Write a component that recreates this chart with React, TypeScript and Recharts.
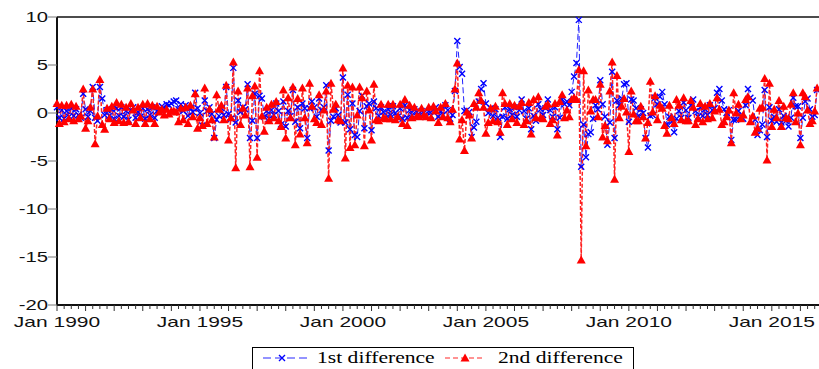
import { LineChart, Line, XAxis, YAxis, ReferenceLine } from "recharts";

// monthly observations, Jan 1990 onwards
const START_YEAR = 1990;

// 1st difference, one row per year
const firstDiff = [
  0.6, -0.5, 0.3, -0.6, 0.2, -0.4, 0.5, -0.3, 0.4, -0.2, -0.5, 2.0, // 1990
  0.4, -0.4, 0.2, 2.7, -0.5, -0.8, 2.7, 1.5, -0.2, 0.3, -0.3, 0.4, // 1991
  -0.6, 0.5, -0.3, 0.6, -0.4, 0.2, -0.7, 0.3, 0.6, -0.5, 0.1, -0.4, // 1992
  0.5, -0.6, 0.4, -0.2, 0.6, -0.5, 0.2, 0.3, 0.7, 0.5, 0.9, 0.8, // 1993
  1.0, 1.2, 1.3, 0.4, 0.9, 0.2, 0.8, -0.3, 0.5, 0.1, 2.1, 0.5, // 1994
  0.0, -1.3, 1.3, 0.2, 0.6, -0.1, -2.6, -0.7, -0.3, 0.5, -0.2, 2.7, // 1995
  -0.1, -0.6, 4.7, -1.0, 1.3, 0.1, 0.6, 0.4, 3.0, -2.6, -0.8, 2.0, // 1996
  -2.6, 1.8, 1.5, -0.4, 0.2, -0.6, 0.3, -0.2, 1.0, 0.2, -1.2, 1.2, // 1997
  -1.4, 0.2, -0.3, 2.4, -0.9, 0.6, -1.6, 1.0, 0.5, -2.6, 0.5, 1.2, // 1998
  0.6, -0.4, 1.5, 0.3, 0.6, 2.9, -3.9, -0.8, -0.4, 0.5, -0.2, -1.0, // 1999
  3.7, -1.0, 1.9, -1.7, 1.0, -2.3, -2.5, 0.2, 1.8, -1.6, 0.7, 1.0, // 2000
  -1.8, 1.2, 0.5, -0.3, 0.6, 0.1, -0.5, 0.4, -0.2, 0.7, 0.0, -0.4, // 2001
  0.5, -0.6, 0.8, -0.5, 0.3, -0.2, 0.4, 0.1, -0.3, 0.2, 0.0, -0.4, // 2002
  0.2, -0.3, 0.4, 0.6, -0.4, 0.2, -0.2, 0.8, 0.3, -0.6, -0.2, 2.3, // 2003
  7.5, 4.8, 4.1, 0.2, 0.3, 0.1, -2.5, -1.5, -0.9, 1.2, 2.5, 3.1, // 2004
  1.0, 0.0, 0.5, -0.3, 0.4, -0.5, -2.5, -0.4, 0.6, -0.6, 0.4, -0.2, // 2005
  0.6, -0.4, 0.3, 1.4, 0.2, -0.6, 0.5, -1.7, -0.3, -0.8, 0.9, 0.4, // 2006
  -0.2, 0.5, 1.4, 0.3, -0.4, 0.6, -1.7, -0.5, 1.4, 0.9, 1.2, 0.8, // 2007
  2.2, 3.8, 5.2, 9.7, -5.6, -1.2, -4.6, -2.2, -2.0, -0.6, 0.8, 0.4, // 2008
  3.4, 0.9, -0.4, -3.3, -1.0, 4.3, -2.6, 1.3, 0.8, 1.5, 3.0, 3.1, // 2009
  -0.9, 1.4, 1.3, 0.5, -0.3, 0.4, 0.0, -2.6, -3.6, -0.3, -0.2, 1.6, // 2010
  0.9, 1.7, 2.2, 0.9, -1.2, -0.4, -0.9, -2.0, -0.6, 0.2, -0.5, 1.1, // 2011
  0.3, -0.5, 0.8, 1.4, 0.2, -0.4, 0.6, -0.3, 0.4, -0.2, 0.8, 0.3, // 2012
  0.5, 2.1, 2.5, 1.3, 0.4, 0.0, 0.3, -2.8, -0.7, -0.7, 0.2, -0.4, // 2013
  -0.6, 0.8, 2.5, 1.6, 1.3, -0.7, -2.3, -1.8, -1.2, 2.4, -2.5, 0.6, // 2014
  -0.8, -0.4, -0.9, 0.4, -1.0, -0.3, -0.8, -1.4, -0.5, 1.6, 0.7, 0.7, // 2015
  -2.6, -0.5, 1.2, 1.5, 0.4, -0.4, -0.2, 2.4, // 2016
];

// 2nd difference
const secondDiff = [
  1.0, -1.1, 0.8, -0.9, 0.8, -0.6, 0.9, -0.8, 0.7, -0.6, -0.3, 2.5, // 1990
  -1.6, -0.8, 0.6, 2.5, -3.2, -0.3, 3.5, -1.2, -1.7, 0.5, -0.6, 0.7, // 1991
  -1.0, 1.1, -0.8, 0.9, -1.0, 0.6, -0.9, 1.0, 0.3, -1.1, 0.6, -0.5, // 1992
  0.9, -1.1, 1.0, -0.6, 0.8, -1.1, 0.7, 0.1, 0.4, -0.2, 0.4, -0.1, // 1993
  0.2, 0.2, 0.1, -0.9, 0.5, -0.7, 0.6, -1.1, 0.8, -0.4, 2.0, -1.6, // 1994
  -0.5, -1.3, 2.6, -1.1, 0.4, -0.7, -2.5, 1.9, 0.4, 0.8, -0.7, 2.9, // 1995
  -2.8, -0.5, 5.3, -5.7, 2.3, -1.2, 0.5, -0.2, 2.6, -5.6, 1.8, 2.8, // 1996
  -4.6, 4.4, -0.3, -1.9, 0.6, -0.8, 0.9, -0.5, 1.2, -0.8, -1.4, 2.4, // 1997
  -2.6, 1.6, -0.5, 2.7, -3.3, 1.5, -2.2, 2.6, -0.5, -3.1, 3.1, 0.7, // 1998
  -0.6, -1.0, 1.9, -1.2, 0.3, 2.3, -6.8, 3.1, 0.4, 0.9, -0.7, -0.8, // 1999
  4.7, -4.7, 2.9, -3.6, 2.7, -3.3, -0.2, 2.7, 1.6, -3.4, 2.3, 0.3, // 2000
  -2.8, 3.0, -0.7, -0.8, 0.9, -0.5, -0.6, 0.9, -0.6, 0.9, -0.7, -0.4, // 2001
  0.9, -1.1, 1.4, -1.3, 0.8, -0.5, 0.6, -0.3, -0.4, 0.5, -0.2, -0.4, // 2002
  0.6, -0.5, 0.7, 0.2, -1.0, 0.6, -0.4, 1.0, -0.5, -0.9, 0.4, 2.5, // 2003
  5.2, -2.7, -0.7, -3.9, 0.1, -0.2, -2.6, 1.0, 0.6, 2.1, 1.3, 0.6, // 2004
  -2.1, -1.0, 0.5, -0.8, 0.7, -0.9, -2.0, 2.1, 1.0, -1.2, 1.0, -0.6, // 2005
  0.8, -1.0, 0.7, 1.1, -1.2, -0.8, 1.1, -2.2, 1.4, -0.5, 1.7, -0.5, // 2006
  -0.6, 0.7, 0.9, -1.1, -0.7, 1.0, -2.3, 1.2, 1.9, -0.5, 0.3, -0.4, // 2007
  1.4, 1.6, 1.4, 4.5, -15.3, 4.4, -3.4, 2.4, 0.2, 1.4, 1.4, -0.4, // 2008
  3.0, -2.5, -1.3, -2.9, 2.3, 5.3, -6.9, 3.9, -0.5, 0.7, 1.5, 0.1, // 2009
  -4.0, 2.3, -0.1, -0.8, -0.8, 0.7, -0.4, -2.6, -1.0, 3.3, 0.1, 1.8, // 2010
  -0.7, 0.8, 0.5, -1.3, -2.1, 0.8, -0.5, -1.1, 1.4, 0.8, -0.7, 1.6, // 2011
  -0.8, -0.8, 1.3, 0.6, -1.2, -0.6, 1.0, -0.9, 0.7, -0.6, 1.0, -0.5, // 2012
  0.2, 1.6, 0.4, -1.2, -0.9, -0.4, 0.3, -3.1, 2.1, 0.0, 0.9, -0.6, // 2013
  -0.2, 1.4, 1.7, -0.9, -0.3, -2.0, -1.6, 0.5, 0.6, 3.6, -4.9, 3.1, // 2014
  -1.4, 0.4, -0.5, 1.3, -1.4, 0.7, -0.5, -0.6, 0.9, 2.1, -0.9, 0.0, // 2015
  -3.3, 2.1, 1.7, 0.3, -1.1, -0.8, 0.2, 2.6, // 2016
];

const labelYears = [1990, 1995, 2000, 2005, 2010, 2015];
const yTicks = [-20, -15, -10, -5, 0, 5, 10];

const data = firstDiff.map((v, i) => ({ m: i, first: v, second: secondDiff[i] }));

// a tick every quarter, labels every five years
const quarterTicks: number[] = [];
for (let m = 0; m < firstDiff.length; m += 3) quarterTicks.push(m);
const labelAt: Record<number, string> = {};
labelYears.forEach((y) => (labelAt[(y - START_YEAR) * 12] = "Jan " + y));

const FONT = "'Liberation Sans', Arial, sans-serif";

function XTick(props: any) {
  const { x, y, payload } = props;
  const m = payload.value;
  const len = m % 12 === 0 ? 6 : 4;
  return (
    <g>
      <line x1={x} x2={x} y1={y} y2={y + len} stroke="#333" strokeWidth={1} />
      {labelAt[m] && (
        <text
          transform={`translate(${x},${y + 22}) scale(1.5,1)`}
          textAnchor="middle"
          fontFamily={FONT}
          fontSize={14}
          fill="#111"
        >
          {labelAt[m]}
        </text>
      )}
    </g>
  );
}

function YTick(props: any) {
  const { x, y, payload } = props;
  return (
    <text
      transform={`translate(${x},${y}) scale(1.45,1)`}
      textAnchor="end"
      dy="0.36em"
      fontFamily={FONT}
      fontSize={14}
      fill="#111"
    >
      {payload.value}
    </text>
  );
}

const crossDot = (p: any) => {
  const { cx, cy, index } = p;
  if (cx == null || cy == null) return <g key={index} />;
  const s = 3;
  return (
    <path
      key={index}
      d={`M${cx - s},${cy - s}L${cx + s},${cy + s}M${cx - s},${cy + s}L${cx + s},${cy - s}`}
      stroke="#0000ff"
      strokeWidth={1.4}
      fill="none"
    />
  );
};

const triangleDot = (p: any) => {
  const { cx, cy, index } = p;
  if (cx == null || cy == null) return <g key={index} />;
  return (
    <path
      key={index}
      d={`M${cx},${cy - 4.5}L${cx + 4.5},${cy + 3.5}L${cx - 4.5},${cy + 3.5}Z`}
      fill="#ff0000"
      stroke="none"
    />
  );
};

function LegendBox() {
  return (
    <svg width={382} height={24} style={{ position: "absolute", left: 244, top: 339, overflow: "visible" }}>
      <rect x={0.5} y={0.5} width={381} height={30} fill="#fff" stroke="#000" strokeWidth={1} />
      <line x1={11} x2={55} y1={11} y2={11} stroke="#7070ff" strokeWidth={1.5} strokeDasharray="8 4" />
      <path d="M27,8L33,14M27,14L33,8" stroke="#0000ff" strokeWidth={1.4} />
      <text
        transform="translate(65,16) scale(1.35,1)"
        fontFamily="'Liberation Serif', 'Times New Roman', serif"
        fontSize={16}
        fill="#000"
      >
        1st difference
      </text>
      <line x1={193} x2={233} y1={11} y2={11} stroke="#ff7070" strokeWidth={1.5} strokeDasharray="5 3" />
      <path d="M213,6.5L217.5,14.5L208.5,14.5Z" fill="#ff0000" />
      <text
        transform="translate(246,16) scale(1.35,1)"
        fontFamily="'Liberation Serif', 'Times New Roman', serif"
        fontSize={16}
        fill="#000"
      >
        2nd difference
      </text>
    </svg>
  );
}

export default function App() {
  // fixed so the overflowing legend does not add scrollbars
  return (
    <div style={{ position: "fixed", left: 8, top: 8, width: 811, height: 361, background: "#fff" }}>
      <LineChart width={811} height={361} data={data} margin={{ top: 9, right: 0, left: 0, bottom: 0 }}>
        <XAxis
          dataKey="m"
          type="number"
          domain={[0, 319.8]}
          ticks={quarterTicks}
          interval={0}
          tick={<XTick />}
          tickLine={false}
          tickSize={0}
          tickMargin={0}
          height={64}
          axisLine={{ stroke: "#111", strokeWidth: 2 }}
        />
        <YAxis
          type="number"
          domain={[-20, 10]}
          ticks={yTicks}
          interval={0}
          width={49}
          tick={<YTick />}
          tickSize={9}
          tickMargin={0}
          tickLine={{ stroke: "#777" }}
          axisLine={{ stroke: "#111", strokeWidth: 2 }}
        />
        <ReferenceLine y={10} stroke="#111" strokeWidth={1.5} />
        <Line
          dataKey="first"
          stroke="#2020ff"
          strokeWidth={1}
          strokeDasharray="6 3"
          dot={crossDot}
          activeDot={false}
          isAnimationActive={false}
        />
        <Line
          dataKey="second"
          stroke="#ff2020"
          strokeWidth={1.5}
          strokeDasharray="4 2"
          dot={triangleDot}
          activeDot={false}
          isAnimationActive={false}
        />
      </LineChart>
      <LegendBox />
    </div>
  );
}
